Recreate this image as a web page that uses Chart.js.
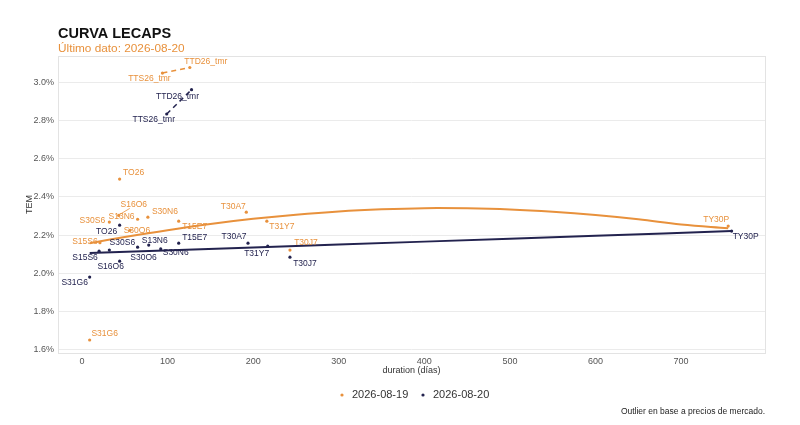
<!DOCTYPE html>
<html>
<head>
<meta charset="utf-8">
<script src="https://cdn.jsdelivr.net/npm/chart.js@4.4.1/dist/chart.umd.min.js"></script>
<style>
  html, body { margin: 0; padding: 0; background: #fff; }
</style>
</head>
<body>
<canvas id="myChart" width="800" height="425"></canvas>
<script>
// ---- data ----
const seriesNames = ['2026-08-19', '2026-08-20'];

const bonds = ['S31G6', 'S15S6', 'S30S6', 'TO26', 'S16O6', 'S30O6', 'S13N6',
  'S30N6', 'T15E7', 'T30A7', 'T31Y7', 'T30J7', 'TY30P'];
const durPrev = [9, 21, 32, 44, 43, 56, 65, 77, 113, 192, 216, 243, 755];
const temPrev = [1.652, 2.16, 2.268, 2.493, 2.303, 2.225, 2.283, 2.294, 2.273, 2.32, 2.273, 2.122, 2.247];
const durLast = [9, 20, 32, 44, 44, 65, 78, 92, 113, 194, 217, 243, 759];
const temLast = [1.981, 2.116, 2.122, 2.252, 2.064, 2.137, 2.148, 2.128, 2.158, 2.158, 2.142, 2.085, 2.221];

const duals = ['TTS26_tmr', 'TTD26_tmr'];
const dualDurPrev = [94, 126];
const dualTemPrev = [3.047, 3.076];
const dualDurLast = [99, 128];
const dualTemLast = [2.833, 2.96];

// fitted curves
const fitDurPrev = [9, 50, 100, 150, 200, 250, 300, 350, 400, 450, 500, 550, 600, 650, 700, 755];
const fitTemPrev = [2.158, 2.19, 2.226, 2.258, 2.285, 2.307, 2.324, 2.335, 2.341, 2.340, 2.334, 2.322, 2.305, 2.283, 2.256, 2.236];
const fitDurLast = [9, 200, 400, 600, 759];
const fitTemLast = [2.106, 2.135, 2.166, 2.197, 2.221];

const xTicks = [0, 100, 200, 300, 400, 500, 600, 700];
const yTicks = [1.6, 1.8, 2.0, 2.2, 2.4, 2.6, 2.8, 3.0];

// ---- styling ----
const ORANGE = '#e8913c';
const NAVY = '#23234f';
const FONT = "'Liberation Sans', Arial, Helvetica, sans-serif";

// label offsets (text centre relative to point, px)
const offPrev = {
  S31G6: [15, -6], S15S6: [-15, -1], S30S6: [-17, -1], TO26: [14, -6], S16O6: [15, -11],
  S30O6: [7, 0], S13N6: [-16, -3], S30N6: [17, -5], T15E7: [16, 6], T30A7: [-13, -5],
  T31Y7: [15, 6], T30J7: [16, -7], TY30P: [-12, -6], TTS26_tmr: [-13, 6], TTD26_tmr: [16, -6]
};
const offLast = {
  S31G6: [-15, 6], S15S6: [-14, 6], S30S6: [13, -7], TO26: [-13, 6], S16O6: [-9, 6],
  S30O6: [6, 10], S13N6: [6, -4], S30N6: [15, 4], T15E7: [16, -5], T30A7: [-14, -6],
  T31Y7: [-11, 7], T30J7: [15, 7], TY30P: [14, 6], TTS26_tmr: [-13, 6], TTD26_tmr: [-14, 7]
};
const segPrev = ['S16O6'];

const pts = (xs, ys) => xs.map((x, i) => ({ x: x, y: ys[i] }));

const data = {
  datasets: [
    { label: 'fitPrev', data: pts(fitDurPrev, fitTemPrev), showLine: true, borderColor: ORANGE,
      borderWidth: 2, pointRadius: 0, tension: 0.4, order: 5 },
    { label: 'fitLast', data: pts(fitDurLast, fitTemLast), showLine: true, borderColor: NAVY,
      borderWidth: 2, pointRadius: 0, tension: 0.4, order: 5 },
    { label: 'dualPrev', data: pts(dualDurPrev, dualTemPrev), showLine: true, borderColor: ORANGE,
      borderWidth: 1.5, borderDash: [5, 4], pointRadius: 1.6, pointBackgroundColor: ORANGE,
      pointBorderWidth: 0, order: 4 },
    { label: 'dualLast', data: pts(dualDurLast, dualTemLast), showLine: true, borderColor: NAVY,
      borderWidth: 1.5, borderDash: [5, 4], pointRadius: 1.6, pointBackgroundColor: NAVY,
      pointBorderWidth: 0, order: 4 },
    { label: seriesNames[0], data: pts(durPrev, temPrev), pointRadius: 1.6,
      pointBackgroundColor: ORANGE, pointBorderWidth: 0, order: 1 },
    { label: seriesNames[1], data: pts(durLast, temLast), pointRadius: 1.6,
      pointBackgroundColor: NAVY, pointBorderWidth: 0, order: 1 }
  ]
};

const labelSets = [
  { ds: 4, names: bonds, off: offPrev, color: ORANGE },
  { ds: 5, names: bonds, off: offLast, color: NAVY },
  { ds: 2, names: duals, off: offPrev, color: ORANGE },
  { ds: 3, names: duals, off: offLast, color: NAVY }
];

const decor = {
  id: 'decor',
  beforeDatasetsDraw(chart) {
    const { ctx, chartArea: a } = chart;
    ctx.save();
    ctx.strokeStyle = '#e3e3e3';
    ctx.lineWidth = 1;
    ctx.strokeRect(a.left + 0.5, a.top + 0.5, a.right - a.left, a.bottom - a.top);
    ctx.restore();
  },
  afterDatasetsDraw(chart) {
    const ctx = chart.ctx;
    ctx.save();
    ctx.font = '8.5px ' + FONT;
    ctx.textAlign = 'center';
    ctx.textBaseline = 'middle';
    labelSets.forEach(s => {
      const meta = chart.getDatasetMeta(s.ds);
      s.names.forEach((n, i) => {
        const el = meta.data[i];
        const o = s.off[n] || [10, -6];
        const tx = el.x + o[0], ty = el.y + o[1];
        ctx.fillStyle = s.color;
        ctx.fillText(n, tx, ty);
        if (s.ds === 4 && segPrev.includes(n)) {
          ctx.strokeStyle = s.color;
          ctx.lineWidth = 0.8;
          ctx.beginPath();
          ctx.moveTo(el.x + 1, el.y - 1);
          ctx.lineTo(tx - 4, ty + 4);
          ctx.stroke();
        }
      });
    });
    ctx.restore();
  },
  afterDraw(chart) {
    const ctx = chart.ctx;
    const a = chart.chartArea;
    ctx.save();
    ctx.textBaseline = 'alphabetic';
    ctx.textAlign = 'left';
    ctx.fillStyle = '#111';
    ctx.font = 'bold 14.5px ' + FONT;
    ctx.fillText('CURVA LECAPS', a.left, 38);
    ctx.fillStyle = ORANGE;
    ctx.font = '11.8px ' + FONT;
    ctx.fillText('Último dato: 2026-08-20', a.left, 52);

    // legend
    ctx.font = '11px ' + FONT;
    ctx.textBaseline = 'middle';
    const ly = 395;
    [[342, ORANGE, seriesNames[0]], [423, NAVY, seriesNames[1]]].forEach(([x, c, t]) => {
      ctx.fillStyle = c;
      ctx.beginPath();
      ctx.arc(x, ly, 1.6, 0, Math.PI * 2);
      ctx.fill();
      ctx.fillStyle = '#333';
      ctx.fillText(t, x + 10, ly);
    });

    // caption
    ctx.font = '8.5px ' + FONT;
    ctx.textAlign = 'right';
    ctx.fillStyle = '#222';
    ctx.fillText('Outlier en base a precios de mercado.', a.right, 412);
    ctx.restore();
  }
};

const config = {
  type: 'scatter',
  data: data,
  options: {
    responsive: false,
    animation: false,
    layout: { padding: { top: 56, right: 35, bottom: 42, left: 0 } },
    scales: {
      x: {
        type: 'linear', min: -28, max: 798,
        afterBuildTicks: s => { s.ticks = xTicks.map(v => ({ value: v })); },
        afterFit: s => { s.height = 30; },
        grid: { display: false, drawTicks: false },
        border: { display: false },
        ticks: { color: '#555', font: { size: 9, family: FONT }, padding: 3, maxRotation: 0 },
        title: { display: true, text: 'duration (días)', color: '#333',
          font: { size: 9, family: FONT }, padding: { top: 7.5, bottom: 7.5 } }
      },
      y: {
        type: 'linear', min: 1.584, max: 3.136,
        afterBuildTicks: s => { s.ticks = yTicks.map(v => ({ value: v })); },
        afterFit: s => { s.width = 58; },
        grid: { color: '#ebebeb', lineWidth: 1, drawTicks: false },
        border: { display: false },
        ticks: { color: '#555', font: { size: 9, family: FONT }, padding: 4,
          callback: v => v.toFixed(1) + '%' },
        title: { display: true, text: 'TEM', color: '#333',
          font: { size: 9, family: FONT }, padding: { top: 24.5, bottom: 24.5 } }
      }
    },
    plugins: {
      legend: { display: false },
      tooltip: { enabled: false }
    }
  },
  plugins: [decor]
};

const myChart = new Chart(document.getElementById('myChart'), config);
</script>
</body>
</html>
